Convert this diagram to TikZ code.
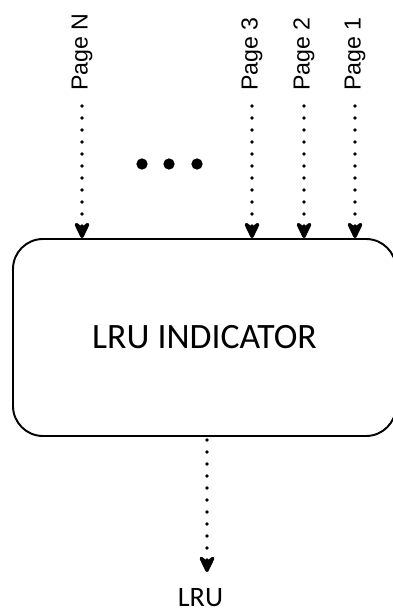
\documentclass[tikz,border=0pt]{standalone}
\usepackage{fontspec}
\setmainfont{Carlito}
\newfontfamily\labelfont{Liberation Sans}
\usetikzlibrary{arrows.meta}

\tikzset{
  dots/.style={line width=2.1pt, line cap=round, dash pattern=on 0pt off 0.24cm,
    -{Stealth[length=0.42cm,width=0.4cm,inset=0.15cm,round=false]}},
  pagelabel/.style={rotate=90, anchor=west, inner sep=0pt, font=\labelfont\fontsize{13.2}{15}\selectfont}
}

\begin{document}
\begin{tikzpicture}
        \useasboundingbox (0,0) rectangle (7.86,-12.24);

        % The indicator block
        \node[draw, line width=1.1pt, rounded corners=0.6cm, minimum width=7.66cm, minimum height=3.94cm,
              font=\fontsize{20.3}{23}\selectfont] (box) at (4.09,-6.75) {LRU INDICATOR};

        % Page inputs
        \node[pagelabel] (pN) at (1.64,-1.82) {Page N};
        \node[pagelabel] (p3) at (5.04,-1.82) {Page 3};
        \node[pagelabel] (p2) at (6.08,-1.82) {Page 2};
        \node[pagelabel] (p1) at (7.10,-1.82) {Page 1};
        \foreach \p in {pN,p3,p2,p1}
            \draw[dots, shorten <=0.3cm] (\p.west) -- (\p.west |- box.north);

        % Ellipsis between Page N and Page 3
        \foreach \x in {2.84,3.38,3.94}
            \fill (\x,-3.28) circle (0.113);

        % Output
        \node[font=\fontsize{16}{18}\selectfont, inner sep=0pt] (lru) at (4.01,-11.95) {LRU};
        \coordinate (out) at (4.14,-11.44);
        \draw[dots, shorten <=0.06cm] (out |- box.south) -- (out);
    \end{tikzpicture}
\end{document}
